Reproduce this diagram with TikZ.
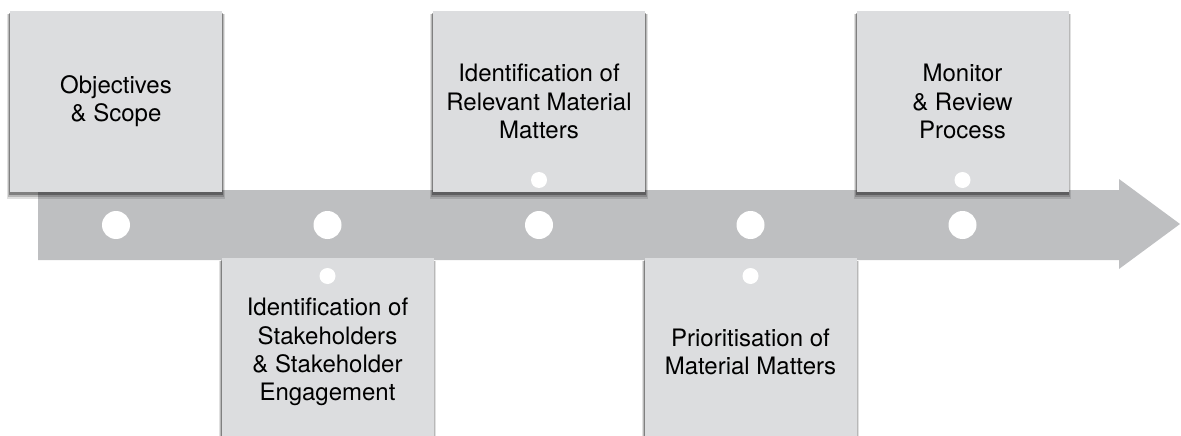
\documentclass[tikz,border=0pt]{standalone}
\usepackage{fontspec}
\setmainfont{TeX Gyre Heros}
\usetikzlibrary{shadows}
\definecolor{boxgray}{RGB}{220,221,223}
\definecolor{bandgray}{RGB}{190,191,193}
\begin{document}
\begin{tikzpicture}[x=1pt, y=-1pt,
  softshadow/.style={
    drop shadow={shadow xshift=0pt, shadow yshift=-5pt, shadow scale=1.025, opacity=0.12, fill=black},
    drop shadow={shadow xshift=0pt, shadow yshift=-4pt, shadow scale=1.015, opacity=0.18, fill=black},
    drop shadow={shadow xshift=0pt, shadow yshift=-2.5pt, shadow scale=1.008, opacity=0.3, fill=black}},
  stepbox/.style={fill=boxgray, minimum width=212pt, inner sep=0pt, align=center,
    font=\fontsize{24}{28.3}\selectfont, softshadow},
  hole/.style={circle, fill=white, inner sep=0pt, minimum size=#1}]
  \useasboundingbox (0,0) rectangle (1181,436);
  \clip (0,0) rectangle (1181,436);
  % timeline arrow
  \fill[bandgray] (38,190) -- (1119,190) -- (1119,179) -- (1180,224) -- (1119,269) -- (1119,260) -- (38,260) -- cycle;
  % steps above and below
  \node[stepbox, minimum height=181pt] (obj) at (116,101.5) {Objectives\\\& Scope};
  \node[stepbox, minimum height=188pt] (stake) at (327.5,352) {Identification of\\Stakeholders\\\& Stakeholder\\Engagement};
  \node[stepbox, minimum height=181pt] (relev) at (539,101.5) {Identification of\\Relevant Material\\Matters};
  \node[stepbox, minimum height=188pt] (prior) at (750.5,352) {Prioritisation of\\Material Matters};
  \node[stepbox, minimum height=181pt] (monit) at (962.5,101.5) {Monitor\\\& Review\\Process};
  % holes on the band
  \foreach \x [count=\i] in {116,327.5,539,750.5,962.5} {
    \node[hole=28pt] (h\i) at (\x,225) {};
  }
  % small holes in the boxes
  \node[hole=16pt] (s2) at (327.5,276) {};
  \node[hole=16pt] (s3) at (539,180) {};
  \node[hole=16pt] (s4) at (750.5,276) {};
  \node[hole=16pt] (s5) at (962.5,180) {};
\end{tikzpicture}
\end{document}
